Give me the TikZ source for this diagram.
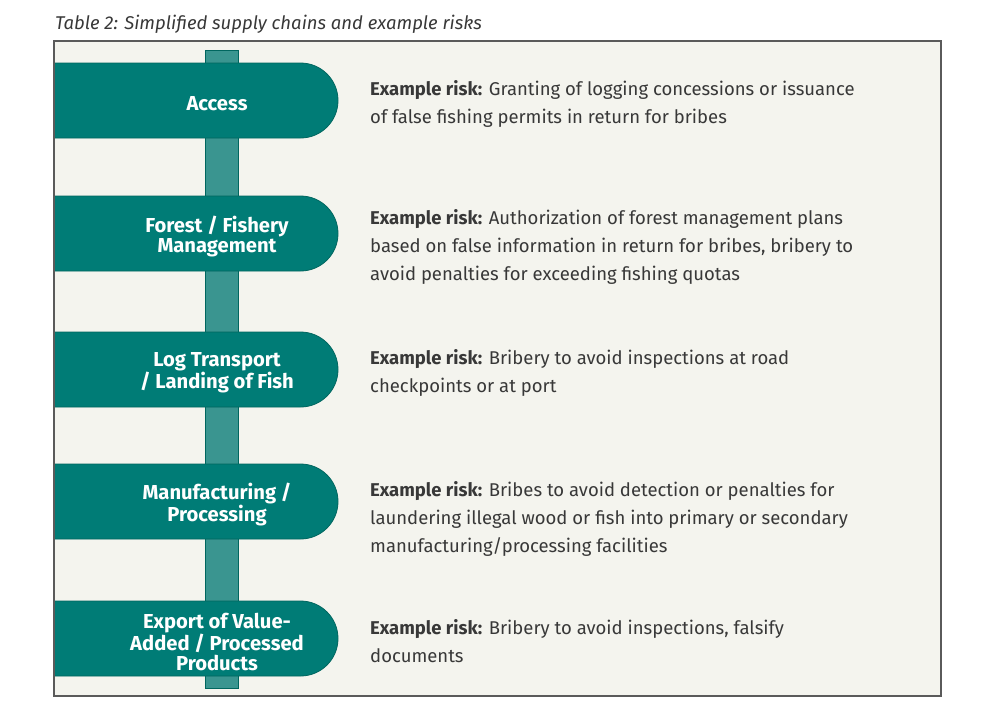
\documentclass[tikz,border=0pt]{standalone}
\usepackage{fontspec}
\setmainfont{Fira Sans}
\usetikzlibrary{shapes.misc}

\definecolor{chainteal}{HTML}{007C76}
\definecolor{chainedge}{HTML}{00665F}
\definecolor{spineteal}{HTML}{3A9590}
\definecolor{panelbg}{HTML}{F4F4EE}
\definecolor{panelline}{HTML}{5A5A5A}
\definecolor{risktext}{HTML}{383838}

\tikzset{
  stagepill/.style={rounded rectangle, rounded rectangle west arc=none,
    minimum width=284pt, minimum height=75pt, inner sep=0pt,
    fill=chainteal, draw=chainedge, line width=0.8pt},
  stagetext/.style={text=white, align=center, inner sep=0pt,
    font=\fontsize{20.2}{20}\selectfont\bfseries},
  risknote/.style={anchor=base west, align=left, inner sep=0pt, text=risktext,
    font=\fontsize{18.5}{27.7}\selectfont},
}

\begin{document}
\begin{tikzpicture}[x=1pt,y=-1pt]
\useasboundingbox (0,0) rectangle (1000,723);

% caption
\node[anchor=base west, inner sep=0pt, text=risktext,
  font=\fontsize{18.5}{22}\selectfont\itshape] (caption) at (55,29.5)
  {Table 2: Simplified supply chains and example risks};

% panel
\fill[panelbg] (54,41) rectangle (941,696);

% the spine behind the stages
\coordinate (spinetop) at (205,50);
\coordinate (spinebot) at (238,688);
\draw[fill=spineteal, draw=chainedge, line width=0.8pt] (spinetop) rectangle (spinebot);

% supply chain stages
\foreach \name/\yy/\lab in {
  acc/100.5/{Access},
  mgmt/233.5/{Forest / Fishery\\Management},
  transp/369.5/{Log Transport\\/ Landing of Fish},
  manuf/501.5/{Manufacturing /\\Processing},
  export/638.5/{Export of Value-\\Added / Processed\\Products}}{
  \node[stagepill] (\name) at (196,\yy) {};
  \node[stagetext] (\name-text) at (217,\yy+3.2) {\lab};
}

% example risks (base = last line)
\foreach \name/\yy/\risk in {
  acc/123.3/{Granting of logging concessions or issuance\\of false fishing permits in return for bribes},
  mgmt/280/{Authorization of forest management plans\\based on false information in return for bribes, bribery to\\avoid penalties for exceeding fishing quotas},
  transp/392/{Bribery to avoid inspections at road\\checkpoints or at port},
  manuf/552/{Bribes to avoid detection or penalties for\\laundering illegal wood or fish into primary or secondary\\manufacturing/processing facilities},
  export/662/{Bribery to avoid inspections, falsify\\documents}}{
  \node[risknote] (\name-risk) at (370,\yy) {\textbf{Example risk:} \risk};
}

% panel frame on top
\draw[panelline, line width=1.8pt] (54,41) rectangle (941,696);
\end{tikzpicture}
\end{document}
